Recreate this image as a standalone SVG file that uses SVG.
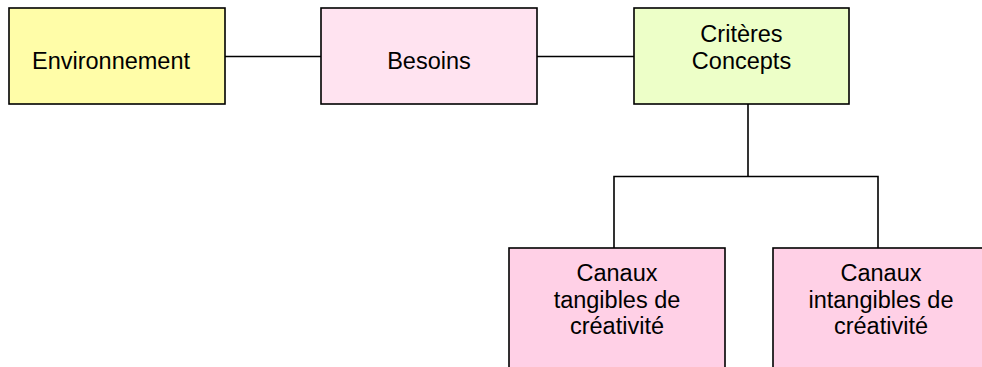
<svg xmlns="http://www.w3.org/2000/svg" width="982" height="367" viewBox="0 0 982 367">
  <style>
    .box { stroke: #000; stroke-width: 1.6; }
    .lbl { font-family: "Liberation Sans", Arial, sans-serif; font-size: 23.5px; fill: #000; text-anchor: middle; }
    .wire { stroke: #000; stroke-width: 1.6; fill: none; }
  </style>
  <rect width="982" height="367" fill="#ffffff"/>
  <g id="connectors">
    <line class="wire" x1="225" y1="56.5" x2="321" y2="56.5"/>
    <line class="wire" x1="537" y1="56.5" x2="634" y2="56.5"/>
    <polyline class="wire" points="748,104 748,176.5"/>
    <polyline class="wire" points="614,248 614,176.5 878,176.5 878,248"/>
  </g>
  <g id="environnement">
    <rect class="box" x="9" y="8" width="216" height="96" fill="#FFFDA8"/>
    <text class="lbl" x="111" y="69">Environnement</text>
  </g>
  <g id="besoins">
    <rect class="box" x="321" y="8" width="216" height="96" fill="#FFE3F0"/>
    <text class="lbl" x="429" y="69">Besoins</text>
  </g>
  <g id="criteres">
    <rect class="box" x="634" y="8" width="215" height="96" fill="#EDFFC8"/>
    <text class="lbl" x="741.5" y="42">Critères</text>
    <text class="lbl" x="741.5" y="68.5">Concepts</text>
  </g>
  <g id="canaux-tangibles">
    <rect class="box" x="509" y="248" width="216" height="140" fill="#FFD0E6"/>
    <text class="lbl" x="617" y="281">Canaux</text>
    <text class="lbl" x="617" y="307.5">tangibles de</text>
    <text class="lbl" x="617" y="334">créativité</text>
  </g>
  <g id="canaux-intangibles">
    <rect class="box" x="773" y="248" width="216" height="140" fill="#FFD0E6"/>
    <text class="lbl" x="881" y="281">Canaux</text>
    <text class="lbl" x="881" y="307.5">intangibles de</text>
    <text class="lbl" x="881" y="334">créativité</text>
  </g>
</svg>
